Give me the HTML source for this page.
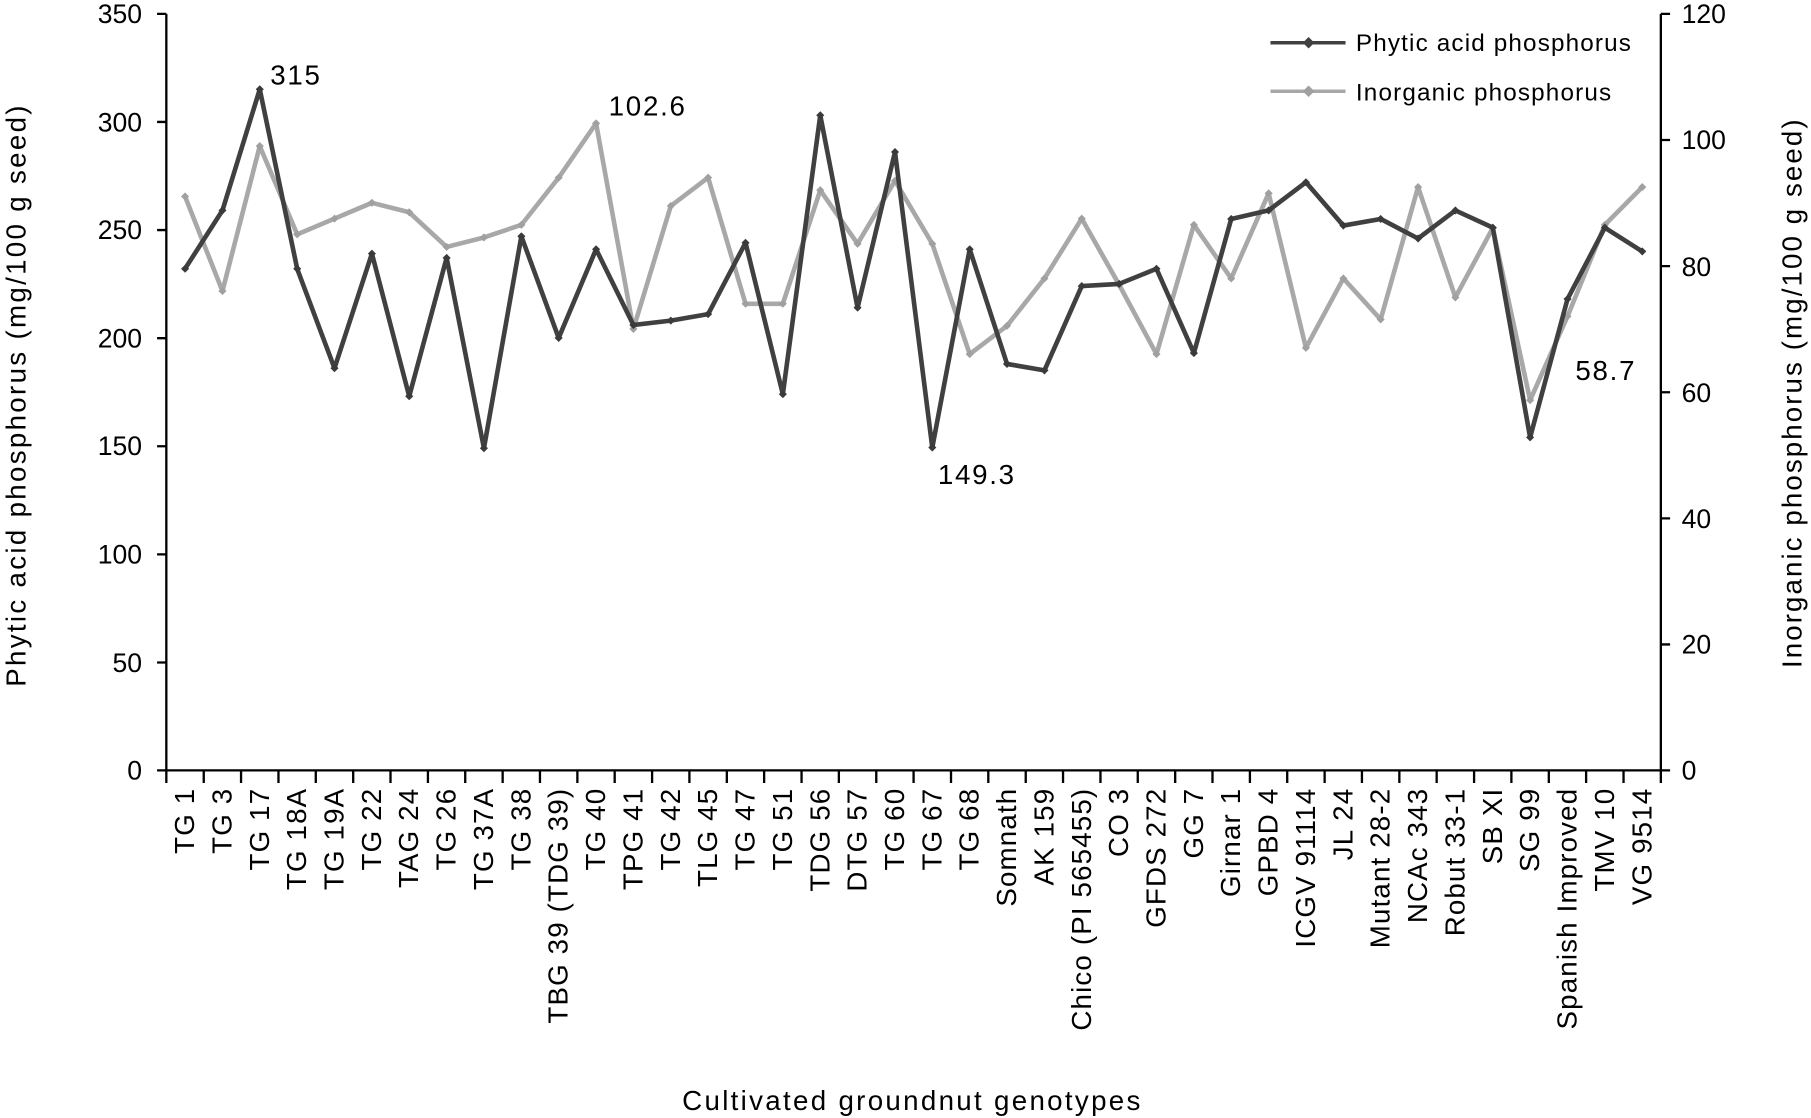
<!DOCTYPE html>
<html><head><meta charset="utf-8"><style>html,body{margin:0;padding:0;background:#fff}svg{display:block}</style></head>
<body>
<svg width="1811" height="1118" viewBox="0 0 1568 968" xmlns="http://www.w3.org/2000/svg" font-family="Liberation Sans, Arial, sans-serif">
<defs>
<marker id="md" viewBox="-5 -5 10 10" markerWidth="7" markerHeight="7" markerUnits="userSpaceOnUse"><path d="M0-5L5 0 0 5-5 0z" fill="#3a3a3a"/></marker>
<marker id="mg" viewBox="-5 -5 10 10" markerWidth="7" markerHeight="7" markerUnits="userSpaceOnUse"><path d="M0-5L5 0 0 5-5 0z" fill="#a0a0a0"/></marker>
</defs>
<g stroke="#000" stroke-width="2" fill="none">
<line x1="144" y1="12" x2="144" y2="668"/>
<line x1="1438" y1="12" x2="1438" y2="668"/>
<line x1="144" y1="667" x2="1438" y2="667"/>
<path d="M136 12H144M136 105.6H144M136 199.2H144M136 292.8H144M136 386.4H144M136 480H144M136 573.6H144M136 667H144"/>
<path d="M1438 12H1446M1438 121.2H1446M1438 230.4H1446M1438 339.6H1446M1438 448.8H1446M1438 558H1446M1438 667H1446"/>
<path d="M144 667V678M176.4 667V678M208.7 667V678M241.1 667V678M273.4 667V678M305.8 667V678M338.1 667V678M370.5 667V678M402.8 667V678M435.2 667V678M467.5 667V678M499.9 667V678M532.2 667V678M564.6 667V678M596.9 667V678M629.3 667V678M661.6 667V678M694 667V678M726.3 667V678M758.7 667V678M791 667V678M823.4 667V678M855.7 667V678M888.1 667V678M920.4 667V678M952.8 667V678M985.1 667V678M1017.5 667V678M1049.8 667V678M1082.2 667V678M1114.5 667V678M1146.9 667V678M1179.2 667V678M1211.6 667V678M1243.9 667V678M1276.3 667V678M1308.6 667V678M1341 667V678M1373.3 667V678M1405.7 667V678M1438 667V678"/>
</g>
<g font-size="23" text-anchor="end" fill="#000">
<text x="123" y="20">350</text><text x="123" y="114">300</text><text x="123" y="207">250</text><text x="123" y="301">200</text><text x="123" y="394">150</text><text x="123" y="488">100</text><text x="123" y="582">50</text><text x="123" y="675">0</text>
</g>
<g font-size="23" fill="#000">
<text x="1456" y="20">120</text><text x="1456" y="129">100</text><text x="1456" y="239">80</text><text x="1456" y="348">60</text><text x="1456" y="457">40</text><text x="1456" y="566">20</text><text x="1456" y="675">0</text>
</g>
<text font-size="24" letter-spacing="2" text-anchor="middle" transform="translate(22,342) rotate(-90)">Phytic acid phosphorus (mg/100 g seed)</text>
<text font-size="24" letter-spacing="1.8" text-anchor="middle" transform="translate(1560,340) rotate(-90)">Inorganic phosphorus (mg/100 g seed)</text>
<text font-size="24" letter-spacing="2" text-anchor="middle" x="790" y="961">Cultivated groundnut genotypes</text>
<polyline fill="none" stroke="#a8a8a8" stroke-width="4" stroke-linejoin="round" marker-start="url(#mg)" marker-mid="url(#mg)" marker-end="url(#mg)" points="160.2,170.1 192.6,252.0 224.9,126.5 257.3,202.9 289.6,189.3 322.0,175.6 354.3,183.8 386.7,213.8 419.0,205.6 451.4,194.7 483.7,153.8 516.1,106.8 548.4,284.8 580.8,178.3 613.1,153.8 645.5,263.0 677.8,263.0 710.2,164.7 742.5,211.1 774.9,156.5 807.2,211.1 839.6,306.6 871.9,282.1 904.3,241.1 936.6,189.3 969.0,246.6 1001.3,306.6 1033.7,194.7 1066.0,241.1 1098.4,167.4 1130.7,301.2 1163.1,241.1 1195.4,276.6 1227.8,162.0 1260.1,257.5 1292.5,197.4 1324.8,346.5 1357.2,273.9 1389.5,194.7 1421.9,162.0"/>
<polyline fill="none" stroke="#404040" stroke-width="4" stroke-linejoin="round" marker-start="url(#md)" marker-mid="url(#md)" marker-end="url(#md)" points="160.2,232.7 192.6,182.2 224.9,77.3 257.3,232.7 289.6,318.8 322.0,219.6 354.3,343.1 386.7,223.3 419.0,388.1 451.4,204.6 483.7,292.6 516.1,215.8 548.4,281.4 580.8,277.6 613.1,272.0 645.5,210.2 677.8,341.3 710.2,99.8 742.5,266.4 774.9,131.6 807.2,387.5 839.6,215.8 871.9,315.1 904.3,320.7 936.6,247.7 969.0,245.8 1001.3,232.7 1033.7,305.7 1066.0,189.6 1098.4,182.2 1130.7,157.8 1163.1,195.3 1195.4,189.6 1227.8,206.5 1260.1,182.2 1292.5,197.1 1324.8,378.7 1357.2,258.9 1389.5,197.1 1421.9,217.7"/>
<g font-size="24" letter-spacing="1.5" fill="#000">
<text x="234" y="73">315</text><text x="527" y="100">102.6</text><text x="812" y="419">149.3</text><text x="1364" y="329">58.7</text>
</g>
<line x1="1100" y1="37" x2="1165" y2="37" stroke="#404040" stroke-width="3"/><path d="M1133 32l5 5-5 5-5-5z" fill="#404040"/>
<line x1="1100" y1="79" x2="1165" y2="79" stroke="#a8a8a8" stroke-width="3"/><path d="M1133 74l5 5-5 5-5-5z" fill="#a0a0a0"/>
<g font-size="21" letter-spacing="1" fill="#000"><text x="1174" y="44">Phytic acid phosphorus</text><text x="1174" y="87">Inorganic phosphorus</text></g>
<g font-size="24" letter-spacing="1" text-anchor="end" fill="#000">
<text transform="translate(168,682) rotate(-90)">TG 1</text>
<text transform="translate(200.4,682) rotate(-90)">TG 3</text>
<text transform="translate(232.7,682) rotate(-90)">TG 17</text>
<text transform="translate(265.1,682) rotate(-90)">TG 18A</text>
<text transform="translate(297.4,682) rotate(-90)">TG 19A</text>
<text transform="translate(329.8,682) rotate(-90)">TG 22</text>
<text transform="translate(362.1,682) rotate(-90)">TAG 24</text>
<text transform="translate(394.5,682) rotate(-90)">TG 26</text>
<text transform="translate(426.8,682) rotate(-90)">TG 37A</text>
<text transform="translate(459.2,682) rotate(-90)">TG 38</text>
<text transform="translate(491.5,682) rotate(-90)">TBG 39 (TDG 39)</text>
<text transform="translate(523.9,682) rotate(-90)">TG 40</text>
<text transform="translate(556.2,682) rotate(-90)">TPG 41</text>
<text transform="translate(588.6,682) rotate(-90)">TG 42</text>
<text transform="translate(620.9,682) rotate(-90)">TLG 45</text>
<text transform="translate(653.3,682) rotate(-90)">TG 47</text>
<text transform="translate(685.6,682) rotate(-90)">TG 51</text>
<text transform="translate(718,682) rotate(-90)">TDG 56</text>
<text transform="translate(750.3,682) rotate(-90)">DTG 57</text>
<text transform="translate(782.7,682) rotate(-90)">TG 60</text>
<text transform="translate(815,682) rotate(-90)">TG 67</text>
<text transform="translate(847.4,682) rotate(-90)">TG 68</text>
<text transform="translate(879.7,682) rotate(-90)">Somnath</text>
<text transform="translate(912.1,682) rotate(-90)">AK 159</text>
<text transform="translate(944.4,682) rotate(-90)">Chico (PI 565455)</text>
<text transform="translate(976.8,682) rotate(-90)">CO 3</text>
<text transform="translate(1009.1,682) rotate(-90)">GFDS 272</text>
<text transform="translate(1041.5,682) rotate(-90)">GG 7</text>
<text transform="translate(1073.8,682) rotate(-90)">Girnar 1</text>
<text transform="translate(1106.2,682) rotate(-90)">GPBD 4</text>
<text transform="translate(1138.5,682) rotate(-90)">ICGV 91114</text>
<text transform="translate(1170.9,682) rotate(-90)">JL 24</text>
<text transform="translate(1203.2,682) rotate(-90)">Mutant 28-2</text>
<text transform="translate(1235.6,682) rotate(-90)">NCAc 343</text>
<text transform="translate(1267.9,682) rotate(-90)">Robut 33-1</text>
<text transform="translate(1300.3,682) rotate(-90)">SB XI</text>
<text transform="translate(1332.6,682) rotate(-90)">SG 99</text>
<text transform="translate(1365,682) rotate(-90)">Spanish Improved</text>
<text transform="translate(1397.3,682) rotate(-90)">TMV 10</text>
<text transform="translate(1429.7,682) rotate(-90)">VG 9514</text>
</g>
</svg>
</body></html>
